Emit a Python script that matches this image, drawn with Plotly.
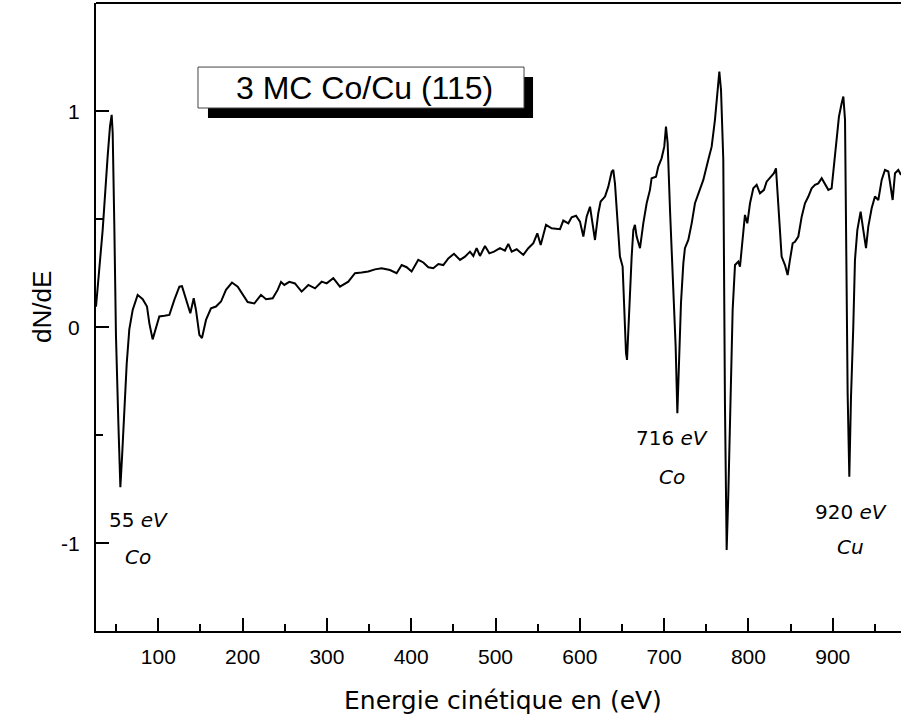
import plotly.graph_objects as go

# Auger spectrum dN/dE vs kinetic energy (eV)
energy = [26.1, 34.0, 39.9, 42.7, 44.7, 45.9, 47.8, 49.8, 52.6, 53.8, 55.0, 57.0, 59.7, 62.5, 65.6,
          69.6, 75.5, 81.5, 86.6, 89.4, 93.3, 97.3, 101.2, 107.2, 113.1, 119.0, 125.0, 128.1, 132.9,
          138.0, 142.0, 144.7, 148.7, 151.8, 156.6, 162.5, 168.4, 174.4, 180.3, 187.4, 194.2, 200.1,
          206.0, 213.9, 221.8, 227.8, 235.7, 241.6, 245.6, 249.5, 255.4,
          262.1, 270.0, 278.0, 285.9, 293.8, 299.7, 307.6, 315.5, 325.4, 333.3, 341.2, 349.1, 357.0,
          364.9, 374.8, 382.7, 388.7, 394.6, 400.5, 408.4, 414.4, 420.3, 426.2, 432.2, 438.1, 444.0,
          450.7, 457.9, 463.8, 469.7, 473.7, 477.6, 481.6, 487.5, 492.7, 498.2, 505.3, 511.2, 515.2,
          519.2, 525.1, 533.0, 538.9, 544.9, 549.6, 553.6, 559.9, 566.6, 576.5, 580.4, 586.4, 590.3,
          595.5,
          600.2, 604.2, 608.1, 612.1, 615.2, 618.0, 621.9, 624.7, 629.9, 633.8, 637.8, 639.7, 641.7,
          644.5, 647.6, 650.8, 652.8, 654.8, 656.0, 657.5, 659.5, 661.5, 663.5, 665.4, 667.4, 671.4,
          675.3, 679.3, 683.2, 685.2, 690.4, 693.1, 697.0, 700.2, 702.2, 704.2, 707.0, 710.9, 713.7,
          715.7, 717.2, 720.0, 722.8, 724.7, 728.7, 732.7, 736.6, 740.6, 746.5, 752.4, 756.4, 760.3,
          763.5, 765.5, 767.5, 770.2, 772.2, 774.2, 776.2, 778.9, 781.3, 784.1, 788.0,
          790.0, 793.2, 795.9, 798.7, 801.9, 805.8, 809.8, 813.7, 818.5, 821.6, 826.4, 830.3, 832.7,
          835.5, 839.4, 843.4, 846.5, 849.3, 852.5, 855.2, 859.2, 863.2, 867.1, 871.1, 875.0, 879.0,
          882.9, 886.9, 890.8, 894.8, 898.7, 901.9, 904.7, 907.4, 910.6, 912.6, 914.6, 916.5, 917.7,
          919.7, 921.7, 924.4, 926.4, 929.2, 933.1, 936.3, 939.5, 942.2, 946.2, 950.1, 954.1, 958.1,
          962.0, 966.0, 968.7, 971.1, 973.9, 977.8, 981.0]

dNdE = [0.095, 0.45, 0.79, 0.93, 0.983, 0.90, 0.48, -0.04, -0.44, -0.60, -0.74, -0.60, -0.37, -0.17, -0.01,
        0.08, 0.15, 0.13, 0.096, 0.018, -0.056, 0.003, 0.05, 0.053, 0.057, 0.127, 0.188, 0.19, 0.127,
        0.065, 0.134, 0.08, -0.035, -0.05, 0.034, 0.088, 0.096, 0.119, 0.173, 0.207, 0.188, 0.15,
        0.117, 0.11, 0.15, 0.13, 0.134, 0.173, 0.21, 0.196, 0.21,
        0.203, 0.165, 0.196, 0.18, 0.211, 0.203, 0.227, 0.188, 0.211, 0.25, 0.253, 0.258, 0.268,
        0.273, 0.265, 0.25, 0.288, 0.278, 0.258, 0.312, 0.30, 0.278, 0.273, 0.293, 0.288, 0.319,
        0.34, 0.312, 0.327, 0.35, 0.33, 0.366, 0.33, 0.376, 0.342, 0.35, 0.366, 0.355, 0.386,
        0.35, 0.361, 0.335, 0.366, 0.389, 0.435, 0.381, 0.474, 0.458, 0.454, 0.494, 0.481, 0.509,
        0.516,
        0.489, 0.42, 0.512, 0.558, 0.481, 0.404, 0.528, 0.582, 0.605, 0.651, 0.72, 0.728, 0.666,
        0.497, 0.327, 0.281, 0.08, -0.12, -0.151, 0.003, 0.188, 0.327, 0.45, 0.474, 0.42, 0.366,
        0.481, 0.574, 0.636, 0.69, 0.697, 0.744, 0.782, 0.836, 0.929, 0.852, 0.543, 0.157, -0.09,
        -0.398, -0.213, 0.111, 0.296, 0.366, 0.404, 0.481, 0.574, 0.62, 0.682, 0.775, 0.836, 0.96,
        1.083, 1.183, 1.098, 0.775, -0.367, -1.031, -0.769, -0.306, 0.08, 0.288, 0.304,
        0.281, 0.404, 0.52, 0.481, 0.574, 0.643, 0.659, 0.62, 0.636, 0.674, 0.697, 0.713, 0.736,
        0.543, 0.327, 0.288, 0.242, 0.312, 0.389, 0.396, 0.42, 0.512, 0.574, 0.605, 0.643, 0.659,
        0.666, 0.69, 0.666, 0.636, 0.643, 0.775, 0.867, 0.975, 1.037, 1.068, 0.96, 0.018, -0.306,
        -0.692, -0.321, 0.003, 0.312, 0.45, 0.535, 0.45, 0.366, 0.466, 0.551, 0.605, 0.589, 0.682,
        0.728, 0.721, 0.643, 0.589, 0.713, 0.728, 0.705]

x_ticks = [100, 200, 300, 400, 500, 600, 700, 800, 900]
y_ticks = [-1, 0, 1]
title_text = "3 MC Co/Cu (115)"
peak_labels = [("55 <i>eV</i>", "<i>Co</i>", 76.5, -0.892, -1.063),
               ("716 <i>eV</i>", "<i>Co</i>", 709.4, -0.512, -0.693),
               ("920 <i>eV</i>", "<i>Cu</i>", 921.6, -0.855, -1.017)]

fig = go.Figure()
fig.add_trace(go.Scatter(x=energy, y=dNdE, mode="lines",
                         line=dict(color="black", width=2), showlegend=False,
                         hoverinfo="skip"))

tick_font = dict(family="Liberation Sans, Arial, sans-serif", size=21, color="black")
label_font = dict(family="DejaVu Sans, sans-serif", size=20, color="black")

fig.update_layout(
    width=901, height=720,
    margin=dict(l=96, r=0, t=3, b=89),
    plot_bgcolor="white", paper_bgcolor="white",
    xaxis=dict(range=[26.1, 981.0], tickmode="array", tickvals=x_ticks,
               ticks="inside", ticklen=13, tickwidth=2, tickcolor="black",
               showline=True, linecolor="black", linewidth=2, showgrid=False,
               zeroline=False, tickfont=tick_font, ticklabelstandoff=6,
               minor=dict(ticks="inside", ticklen=7, tickwidth=2, tickcolor="black",
                          dtick=50, tick0=0, showgrid=False)),
    yaxis=dict(range=[-1.406, 1.501], tickmode="array", tickvals=y_ticks,
               ticktext=["-1", "0", "1"],
               ticks="inside", ticklen=13, tickwidth=2, tickcolor="black",
               showline=True, linecolor="black", linewidth=2, showgrid=False,
               zeroline=False, tickfont=tick_font, ticklabelstandoff=10,
               minor=dict(ticks="inside", ticklen=7, tickwidth=2, tickcolor="black",
                          dtick=0.5, tick0=0, showgrid=False)),
)

# top frame line
fig.add_shape(type="line", xref="paper", yref="paper", x0=0, x1=1, y0=1, y1=1,
              line=dict(color="black", width=2))

# title box with drop shadow
fig.add_shape(type="rect", xref="paper", yref="paper", x0=0.1391, x1=0.5429,
              y0=0.8169, y1=0.8822, fillcolor="black", line=dict(width=0))
fig.add_shape(type="rect", xref="paper", yref="paper", x0=0.1267, x1=0.5317,
              y0=0.8328, y1=0.898, fillcolor="white", line=dict(color="#444", width=1))
fig.add_annotation(xref="paper", yref="paper", x=0.334, y=0.8654, text=title_text,
                   showarrow=False, font=dict(family="Liberation Sans, Arial, sans-serif",
                                              size=32, color="black"),
                   xanchor="center", yanchor="middle")

for top, bottom, xpos, ytop, ybot in peak_labels:
    fig.add_annotation(x=xpos, y=ytop, text=top, showarrow=False, font=label_font,
                       xanchor="center", yanchor="middle")
    fig.add_annotation(x=xpos, y=ybot, text=bottom, showarrow=False, font=label_font,
                       xanchor="center", yanchor="middle")

# axis titles
fig.add_annotation(xref="paper", yref="paper", x=(503 - 96) / 805, y=(631 - 700) / 628,
                   text="Energie cinétique en (eV)", showarrow=False,
                   font=dict(family="DejaVu Sans, sans-serif", size=25, color="black"),
                   xanchor="center", yanchor="middle")
fig.add_annotation(xref="paper", yref="paper", x=(42 - 96) / 805, y=(631 - 307) / 628,
                   text="dN/dE", showarrow=False, textangle=-90,
                   font=dict(family="Liberation Sans, Arial, sans-serif", size=26, color="black"),
                   xanchor="center", yanchor="middle")

fig.write_html("out.html", config={"displayModeBar": False},
               post_script="document.body.style.margin='0';document.body.style.overflow='hidden';")
